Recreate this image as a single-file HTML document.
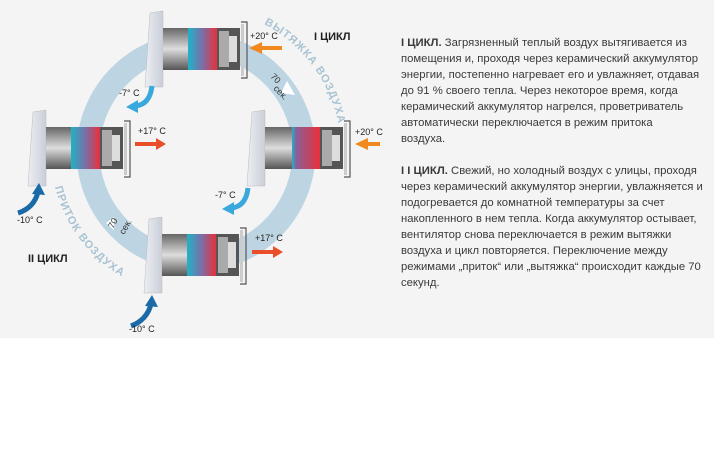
<!DOCTYPE html>
<html><head><meta charset="utf-8"><style>
html,body{margin:0;padding:0;width:714px;height:460px;background:#fff;overflow:hidden}
.bg{position:absolute;left:0;top:0;width:714px;height:338px;background:#f4f4f4}
.txt{position:absolute;left:401px;top:35px;width:310px;font:11.3px/16px "Liberation Sans",sans-serif;color:#3a3a3a;white-space:nowrap}
.txt p{margin:0 0 16px 0}
svg{position:absolute;left:0;top:0}
</style></head><body>
<div class="bg"></div>
<svg width="400" height="338" viewBox="0 0 400 338" font-family="Liberation Sans, sans-serif">
<defs>
<linearGradient id="g1" x1="0" x2="1"><stop offset="0" stop-color="#1fb3c8"/><stop offset="0.5" stop-color="#7a6fa8"/><stop offset="1" stop-color="#e8303a"/></linearGradient>
<linearGradient id="g2" x1="0" x2="1"><stop offset="0" stop-color="#1fb3c8"/><stop offset="0.15" stop-color="#8a5f9a"/><stop offset="1" stop-color="#e8303a"/></linearGradient>
<linearGradient id="gray" x1="0" y1="0" x2="0" y2="1"><stop offset="0" stop-color="#666"/><stop offset="0.5" stop-color="#ddd"/><stop offset="1" stop-color="#555"/></linearGradient>
<linearGradient id="pan" x1="0" x2="1"><stop offset="0" stop-color="#eceef2"/><stop offset="1" stop-color="#c9ced8"/></linearGradient>
<g id="unit">
<polygon points="-13,-15 0,-17 0,59 -18,59" fill="url(#pan)" stroke="#bbb" stroke-width="0.5"/>
<rect x="0" y="0" width="25" height="42" fill="url(#gray)"/>
<rect x="25" y="0" width="29" height="42" fill="url(#g1)"/>
<rect x="54" y="0" width="23" height="42" fill="#555"/>
<rect x="56" y="3" width="10" height="36" fill="#aaa"/>
<rect x="66" y="8" width="8" height="26" fill="#ddd"/>
<path d="M78,-6 h6 v56 h-6" fill="none" stroke="#555" stroke-width="1.2"/>
<rect x="78" y="-4" width="3" height="52" fill="#ccc"/>
</g>
<path id="pTop" d="M264,24 A145,145 0 0 1 338,122" fill="none"/>
<path id="pBot" d="M55,187 A145,145 0 0 0 128,280" fill="none"/>
</defs>
<circle cx="196" cy="152" r="108" fill="none" stroke="#bdd5e3" stroke-width="23"/>
<use href="#unit" x="163" y="28"/>
<use href="#unit" x="46" y="127"/>
<use href="#unit" x="162" y="234"/>
<g transform="translate(265,127)">
<polygon points="-13,-15 0,-17 0,59 -18,59" fill="url(#pan)" stroke="#bbb" stroke-width="0.5"/>
<rect x="0" y="0" width="27" height="42" fill="url(#gray)"/>
<rect x="27" y="0" width="28" height="42" fill="url(#g2)"/>
<rect x="55" y="0" width="23" height="42" fill="#555"/>
<rect x="57" y="3" width="10" height="36" fill="#aaa"/>
<rect x="67" y="8" width="8" height="26" fill="#ddd"/>
<path d="M79,-6 h6 v56 h-6" fill="none" stroke="#555" stroke-width="1.2"/>
<rect x="79" y="-4" width="3" height="52" fill="#ccc"/>
</g>
<polygon points="282,46 262,46 262,42 249,48 262,54 262,50 282,50" fill="#f08a1e"/>
<polygon points="380,142 368,142 368,138 355,144 368,150 368,146 380,146" fill="#f08a1e"/>
<polygon points="135,142 156,142 156,138 166,144 156,150 156,146 135,146" fill="#e9502a"/>
<polygon points="252,250 273,250 273,246 283,252 273,258 273,254 252,254" fill="#e9502a"/>
<path d="M152,86 Q150,104 136,106" fill="none" stroke="#3aa8dc" stroke-width="5"/>
<polygon points="138,100 126,107 138,113" fill="#3aa8dc"/>
<path d="M248,188 Q246,206 232,208" fill="none" stroke="#3aa8dc" stroke-width="5"/>
<polygon points="234,202 222,209 234,215" fill="#3aa8dc"/>
<path d="M18,213 Q34,208 38,192" fill="none" stroke="#1a6aa8" stroke-width="5"/>
<polygon points="32,194 39,183 45,195" fill="#1a6aa8"/>
<path d="M131,326 Q147,320 151,304" fill="none" stroke="#1a6aa8" stroke-width="5"/>
<polygon points="145,306 152,295 158,307" fill="#1a6aa8"/>
<polygon points="287,81 295,95 281,93" fill="#fff"/>
<polygon points="106,223 114,217 114,230" fill="#fff"/>
<g font-size="9" fill="#222">
<text x="250" y="39">+20° C</text>
<text x="355" y="135">+20° C</text>
<text x="138" y="134">+17° C</text>
<text x="255" y="241">+17° C</text>
<text x="119" y="96">-7° C</text>
<text x="215" y="198">-7° C</text>
<text x="17" y="223">-10° C</text>
<text x="129" y="332">-10° C</text>
</g>
<g font-size="11" font-weight="bold" fill="#222">
<text x="314" y="40">I ЦИКЛ</text>
<text x="28" y="262">II ЦИКЛ</text>
</g>
<g font-size="11" font-weight="bold" fill="#a9c3d3" letter-spacing="1">
<text><textPath href="#pTop">ВЫТЯЖКА ВОЗДУХА</textPath></text>
<text><textPath href="#pBot">ПРИТОК ВОЗДУХА</textPath></text>
</g>
<g font-size="9" fill="#333">
<text transform="translate(270,77) rotate(45)">70</text>
<text transform="translate(273,89) rotate(45)">сек.</text>
<text transform="translate(113,229) rotate(-60)">70</text>
<text transform="translate(124,235) rotate(-60)">сек.</text>
</g>
</svg>
<div class="txt">
<p><b>I ЦИКЛ.</b> Загрязненный теплый воздух вытягивается из<br>помещения и, проходя через керамический аккумулятор<br>энергии, постепенно нагревает его и увлажняет, отдавая<br>до 91 % своего тепла. Через некоторое время, когда<br>керамический аккумулятор нагрелся, проветриватель<br>автоматически переключается в режим притока<br>воздуха.</p>
<p><b>I I ЦИКЛ.</b> Свежий, но холодный воздух с улицы, проходя<br>через керамический аккумулятор энергии, увлажняется и<br>подогревается до комнатной температуры за счет<br>накопленного в нем тепла. Когда аккумулятор остывает,<br>вентилятор снова переключается в режим вытяжки<br>воздуха и цикл повторяется. Переключение между<br>режимами „приток“ или „вытяжка“ происходит каждые 70<br>секунд.</p>
</div>
</body></html>
